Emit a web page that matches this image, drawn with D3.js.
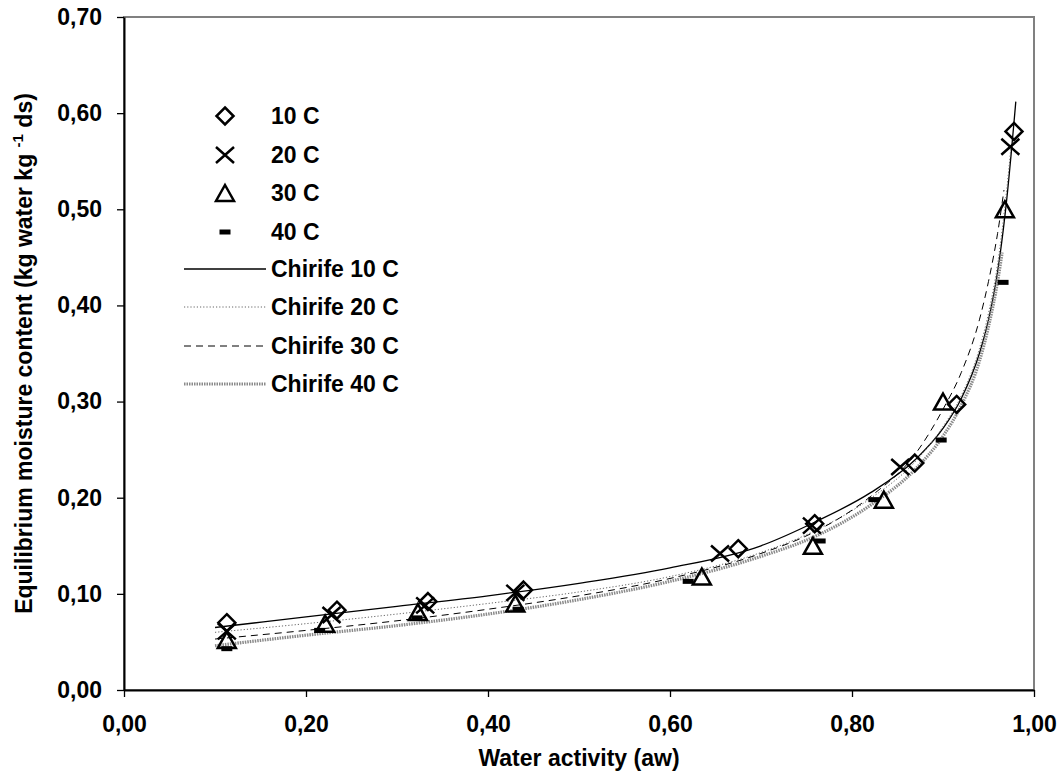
<!DOCTYPE html>
<html>
<head>
<meta charset="utf-8">
<script src="https://cdn.jsdelivr.net/npm/d3@7"></script>
<style>
  html, body { margin: 0; padding: 0; background: #fff; }
  svg { display: block; font-family: "Liberation Sans", Arial, sans-serif; font-weight: bold; }
</style>
</head>
<body>
<svg id="chart" width="1060" height="778"></svg>
<script>
// Measured sorption data (water activity vs equilibrium moisture content)
const aw10 = [0.113, 0.234, 0.334, 0.439, 0.675, 0.759, 0.869, 0.915, 0.978];
const m10  = [0.070, 0.083, 0.092, 0.104, 0.147, 0.173, 0.236, 0.297, 0.581];

const aw20 = [0.113, 0.228, 0.331, 0.430, 0.655, 0.756, 0.853, 0.974];
const m20  = [0.061, 0.078, 0.088, 0.101, 0.142, 0.171, 0.232, 0.565];

const aw30 = [0.113, 0.221, 0.323, 0.430, 0.635, 0.757, 0.835, 0.900, 0.968];
const m30  = [0.052, 0.069, 0.081, 0.090, 0.118, 0.150, 0.198, 0.300, 0.500];

const aw40 = [0.113, 0.215, 0.322, 0.433, 0.620, 0.765, 0.824, 0.898, 0.966];
const m40  = [0.043, 0.062, 0.075, 0.084, 0.113, 0.155, 0.198, 0.260, 0.424];

// Chirife model curves
const chirife10Aw = [0.10, 0.20, 0.30, 0.40, 0.50, 0.60, 0.70, 0.76, 0.82, 0.87, 0.90, 0.92, 0.94, 0.95, 0.96, 0.97, 0.98];
const chirife10M  = [0.065, 0.076, 0.087, 0.098, 0.111, 0.127, 0.150, 0.175, 0.205, 0.240, 0.272, 0.303, 0.350, 0.385, 0.435, 0.510, 0.612];

const chirife20Aw = [0.10, 0.20, 0.30, 0.40, 0.50, 0.60, 0.70, 0.76, 0.82, 0.87, 0.90, 0.92, 0.94, 0.95, 0.96, 0.97, 0.975];
const chirife20M  = [0.060, 0.069, 0.079, 0.090, 0.102, 0.118, 0.143, 0.166, 0.199, 0.238, 0.274, 0.306, 0.355, 0.392, 0.443, 0.520, 0.568];

const chirife30Aw = [0.10, 0.20, 0.30, 0.40, 0.50, 0.60, 0.70, 0.76, 0.82, 0.87, 0.90, 0.92, 0.94, 0.95, 0.96, 0.967];
const chirife30M  = [0.053, 0.062, 0.072, 0.084, 0.098, 0.116, 0.142, 0.165, 0.201, 0.246, 0.292, 0.330, 0.385, 0.425, 0.475, 0.520];

const chirife40Aw = [0.10, 0.20, 0.30, 0.40, 0.50, 0.60, 0.70, 0.76, 0.82, 0.87, 0.90, 0.92, 0.94, 0.95, 0.96, 0.965];
const chirife40M  = [0.046, 0.057, 0.067, 0.079, 0.094, 0.113, 0.139, 0.160, 0.192, 0.230, 0.264, 0.296, 0.342, 0.378, 0.425, 0.455];

const xTicks = [0, 0.2, 0.4, 0.6, 0.8, 1.0];
const yTicks = [0, 0.1, 0.2, 0.3, 0.4, 0.5, 0.6, 0.7];

const pointLabels = ["10 C", "20 C", "30 C", "40 C"];
const curveLabels = ["Chirife 10 C", "Chirife 20 C", "Chirife 30 C", "Chirife 40 C"];
const xTitle = "Water activity (aw)";

const svg = d3.select("#chart");
const plotL = 124, plotR = 1034, plotT = 17, plotB = 690;

const x = d3.scaleLinear().domain([0, 1]).range([plotL, plotR]);
const y = d3.scaleLinear().domain([0, 0.7]).range([plotB, plotT]);

const locale = d3.formatLocale({ decimal: ",", thousands: ".", grouping: [3], currency: ["", ""] });
const fmt = locale.format(".2f");

// plot frame
svg.append("rect")
  .attr("x", plotL).attr("y", plotT)
  .attr("width", plotR - plotL).attr("height", plotB - plotT)
  .attr("fill", "none").attr("stroke", "#808080").attr("stroke-width", 2);

// axes
const xAxis = svg.append("g")
  .attr("transform", `translate(0,${plotB})`)
  .call(d3.axisBottom(x).tickValues(xTicks).tickFormat(fmt).tickSize(7).tickPadding(19).tickSizeOuter(0));
const yAxis = svg.append("g")
  .attr("transform", `translate(${plotL},0)`)
  .call(d3.axisLeft(y).tickValues(yTicks).tickFormat(fmt).tickSize(7).tickPadding(15).tickSizeOuter(0));

[xAxis, yAxis].forEach(g => {
  g.select(".domain").attr("stroke", "#000").attr("stroke-width", 2);
  g.selectAll(".tick line").attr("stroke", "#000").attr("stroke-width", 1.3);
  g.selectAll(".tick text")
    .attr("fill", "#000")
    .style("font-family", '"Liberation Sans", Arial, sans-serif')
    .style("font-weight", "bold")
    .style("font-size", "23px");
});

// axis titles
svg.append("text")
  .attr("x", (plotL + plotR) / 2).attr("y", 766)
  .attr("text-anchor", "middle")
  .style("font-size", "23px")
  .text(xTitle);

const yt = svg.append("text")
  .attr("transform", `translate(32,${(plotT + plotB) / 2}) rotate(-90)`)
  .attr("text-anchor", "middle")
  .style("font-size", "23px");
yt.append("tspan").text("Equilibrium moisture content (kg water kg ");
yt.append("tspan").attr("dy", -9).style("font-size", "15px").text("-1");
yt.append("tspan").attr("dy", 9).text(" ds)");

// curve styles
const curveStyles = [
  { stroke: "#000", width: 1.3, dash: null },
  { stroke: "#666", width: 1, dash: "1.2,2" },
  { stroke: "#000", width: 1, dash: "7,5" },
  { stroke: "#8a8a8a", width: 3.2, dash: "1.5,1" }
];

const curves = [
  [chirife10Aw, chirife10M],
  [chirife20Aw, chirife20M],
  [chirife30Aw, chirife30M],
  [chirife40Aw, chirife40M]
];

const line = d3.line()
  .x(d => x(d[0]))
  .y(d => y(d[1]))
  .curve(d3.curveMonotoneX);

const curveG = svg.append("g");
curves.forEach((c, i) => {
  const pts = c[0].map((a, j) => [a, c[1][j]]);
  const s = curveStyles[i];
  curveG.append("path")
    .attr("d", line(pts))
    .attr("fill", "none")
    .attr("stroke", s.stroke)
    .attr("stroke-width", s.width)
    .attr("stroke-dasharray", s.dash);
});

// marker drawers
function drawMarker(g, kind, cx, cy) {
  if (kind === 0) {
    const r = 8.5;
    g.append("path")
      .attr("d", `M${cx},${cy - r}L${cx + r},${cy}L${cx},${cy + r}L${cx - r},${cy}Z`)
      .attr("fill", "none").attr("stroke", "#000").attr("stroke-width", 2.5);
  } else if (kind === 1) {
    const w = 9, h = 8;
    g.append("path")
      .attr("d", `M${cx - w},${cy - h}L${cx + w},${cy + h}M${cx - w},${cy + h}L${cx + w},${cy - h}`)
      .attr("fill", "none").attr("stroke", "#000").attr("stroke-width", 2.5);
  } else if (kind === 2) {
    const w = 9, h = 8;
    g.append("path")
      .attr("d", `M${cx},${cy - h}L${cx + w},${cy + h}L${cx - w},${cy + h}Z`)
      .attr("fill", "none").attr("stroke", "#000").attr("stroke-width", 2.5)
      .attr("stroke-linejoin", "miter");
  } else {
    g.append("rect")
      .attr("x", cx - 5.5).attr("y", cy - 2.5)
      .attr("width", 11).attr("height", 5)
      .attr("fill", "#000");
  }
}

const series = [[aw10, m10], [aw20, m20], [aw30, m30], [aw40, m40]];
const markG = svg.append("g");
series.forEach((s, i) => {
  s[0].forEach((a, j) => drawMarker(markG, i, x(a), y(s[1][j])));
});

// legend
const legend = svg.append("g");
const rowY = [116, 155, 193, 232, 269, 307, 346, 384];
pointLabels.forEach((lab, i) => {
  drawMarker(legend, i, 225, rowY[i]);
  legend.append("text")
    .attr("x", 271).attr("y", rowY[i]).attr("dy", "0.36em")
    .style("font-size", "23px")
    .text(lab);
});
curveLabels.forEach((lab, i) => {
  const yy = rowY[i + 4];
  const s = curveStyles[i];
  legend.append("line")
    .attr("x1", 184).attr("x2", 266).attr("y1", yy).attr("y2", yy)
    .attr("stroke", s.stroke).attr("stroke-width", s.width)
    .attr("stroke-dasharray", s.dash);
  legend.append("text")
    .attr("x", 271).attr("y", yy).attr("dy", "0.36em")
    .style("font-size", "23px")
    .text(lab);
});
</script>
</body>
</html>
